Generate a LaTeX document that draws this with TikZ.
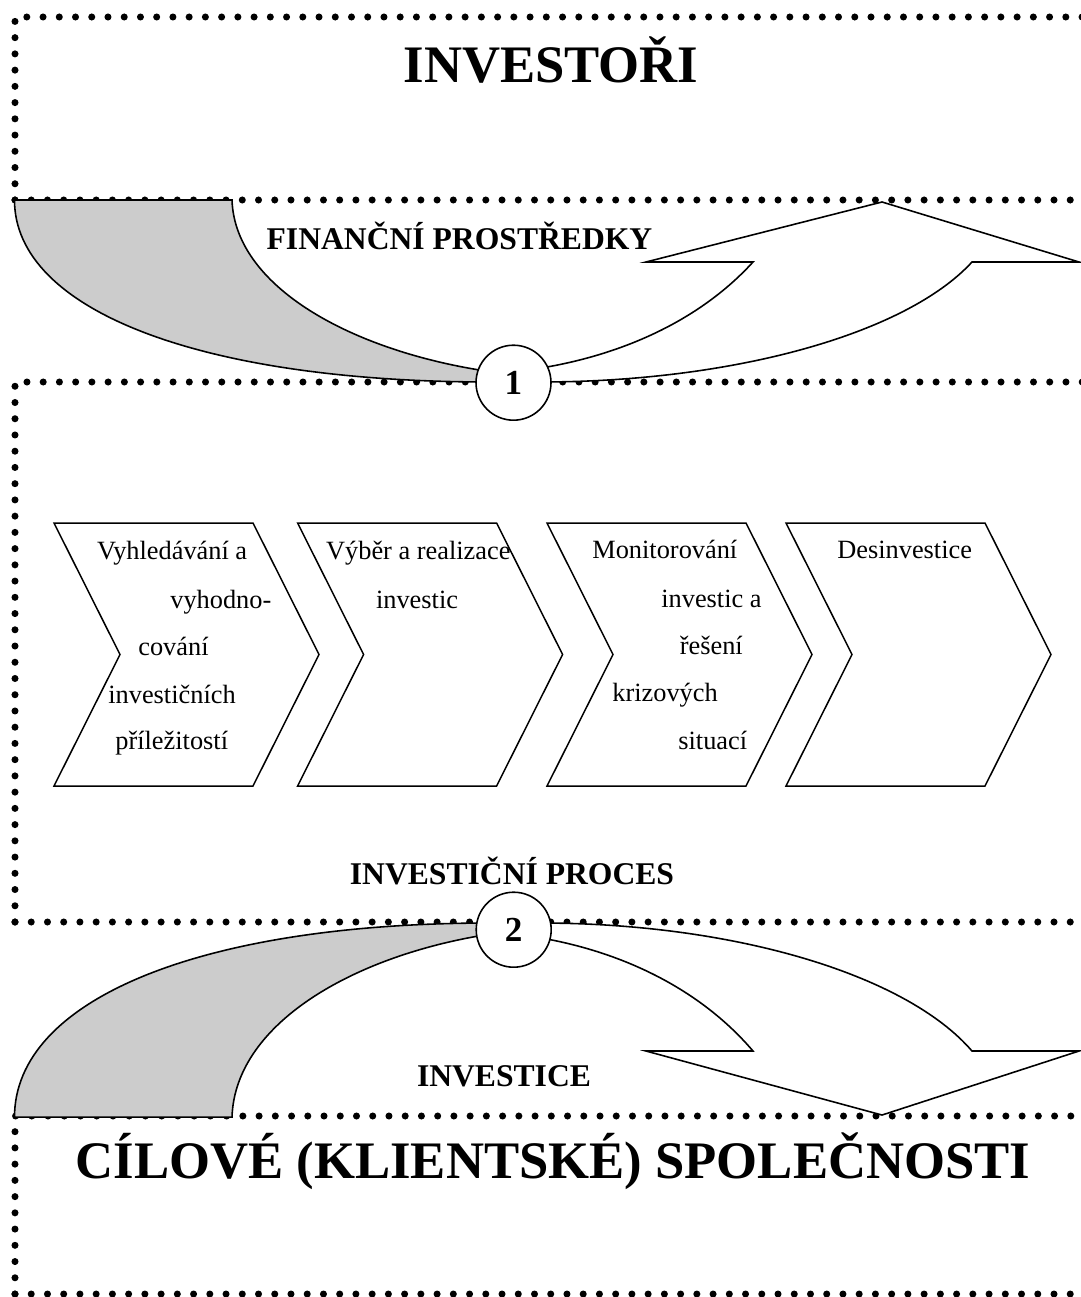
\documentclass[tikz,border=0pt]{standalone}
\usepackage{fontspec}
\setmainfont{Liberation Serif}
\definecolor{shade}{RGB}{204,204,204}
\newcommand\myCurvedArrow{%
  \filldraw[arrowpart, fill=shade] (14.5,200) -- (232,200)
     .. controls (235,290) and (360,355) .. (500,373) -- (500,382) -- (490,382)
     .. controls (200,382) and (14.5,310) .. (14.5,200) -- cycle;
  \filldraw[arrowpart, fill=white] (500,373)
     .. controls (600,365) and (693,328) .. (753,262) -- (646,262) -- (882,202)
     -- (1079,262) -- (972,262)
     .. controls (906,334) and (733,382) .. (540,382) -- (500,382) -- cycle;
}
\begin{document}
\begin{tikzpicture}[x=0.02cm,y=-0.02cm,
  dotline/.style={line width=4pt, dash pattern=on 0pt off 9.24pt, line cap=round},
  arrowpart/.style={draw, line width=0.9pt, line join=miter},
  chev/.style={draw, fill=white, line width=0.85pt},
  numcirc/.style={circle, draw, fill=white, line width=0.9pt, minimum size=1.5cm, inner sep=0pt,
    font=\bfseries\fontsize{20}{24}\selectfont},
  bigtitle/.style={font=\bfseries\fontsize{30}{36}\selectfont, inner sep=0pt, anchor=base},
  bandlabel/.style={font=\bfseries\fontsize{18}{22}\selectfont, inner sep=0pt, anchor=base},
  body/.style={font=\fontsize{15}{18}\selectfont, inner sep=0pt, anchor=base west}]
\useasboundingbox (0,0) rectangle (1080,1297);
% dotted frames
\draw[dotline] (15,200) -- (15,17) -- (1090,17);
\draw[dotline] (15,200) -- (1090,200);
\draw[dotline] (15,922) -- (15,382) -- (1090,382);
\draw[dotline] (15,922) -- (1090,922);
\draw[dotline] (15,1294) -- (15,1116) -- (1090,1116);
\draw[dotline] (15,1294) -- (1090,1294);
% arrows
\myCurvedArrow
\begin{scope}[shift={(0,1330.5)}, yscale=-1.0667]
\myCurvedArrow
\end{scope}
% circles
\node[numcirc] (c1) at (513.5,382.7) {1};
\node[numcirc] (c2) at (513.7,929.7) {2};
% chevrons
\foreach \x in {54,297.6,547,786}
  \draw[chev] (\x,523) -- ++(199,0) -- ++(66,131.5) -- ++(-66,131.5) -- ++(-199,0) -- ++(66,-131.5) -- cycle;
% titles
\node[bigtitle] (inv) at (551,83) {INVESTOŘI};
\node[bigtitle] (cil) at (553,1178) {CÍLOVÉ (KLIENTSKÉ) SPOLEČNOSTI};
\node[bandlabel] (fin) at (459.5,250) {FINANČNÍ PROSTŘEDKY};
\node[bandlabel] (proc) at (512,884) {INVESTIČNÍ PROCES};
\node[bandlabel] (invc) at (504,1086) {INVESTICE};
% chevron texts
\node[body] (a1) at (96.8,559) {Vyhledávání a};
\node[body] (a2) at (170,608) {vyhodno-};
\node[body] (a3) at (138,655) {cování};
\node[body] (a4) at (108,703) {investičních};
\node[body] (a5) at (115,749) {příležitostí};
\node[body] (b1) at (325.8,559) {Výběr a realizace};
\node[body] (b2) at (375.7,608) {investic};
\node[body] (m1) at (592,558) {Monitorování};
\node[body] (m2) at (661,607.5) {investic a};
\node[body] (m3) at (679.5,654.6) {řešení};
\node[body] (m4) at (612,701) {krizových};
\node[body] (m5) at (678,749) {situací};
\node[body] (d1) at (837,558) {Desinvestice};
\end{tikzpicture}
\end{document}
